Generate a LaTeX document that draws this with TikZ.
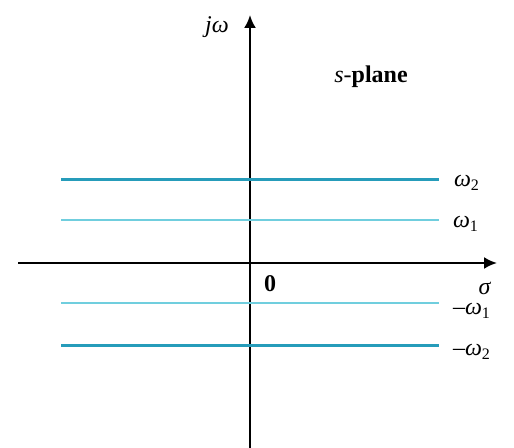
\documentclass[tikz,border=0pt]{standalone}
\usepackage{fontspec}
\setmainfont{Liberation Serif}
\usetikzlibrary{arrows.meta,positioning}
\definecolor{polehi}{RGB}{38,156,186}
\definecolor{polelo}{RGB}{112,206,222}

\begin{document}
\begin{tikzpicture}[
  x=0.5pt, y=-0.5pt,
  axis/.style={-{Latex[length=6.5pt,width=6pt]}, line width=1.1pt},
  bandhi/.style={draw=polehi, line width=1.5pt},
  bandlo/.style={draw=polelo, line width=1pt},
  lab/.style={font=\fontsize{12}{14}\selectfont, inner sep=1pt}
]
\useasboundingbox (0,0) rectangle (514,448);

% ---------------------------------------------------------------------------
% Axes of the s-plane
% ---------------------------------------------------------------------------
\coordinate (origin) at (250,263);
\coordinate (reLeft) at (18,263);
\coordinate (reRight) at (497,263);
\coordinate (imTop) at (250,15);
\coordinate (imBottom) at (250,448);

\draw[axis] (reLeft) -- (reRight);
\draw[axis] (imBottom) -- (imTop);

\node[lab] (jw) at (217,27) {\textit{jω}};
\node[lab] (sigma) at (485,288) {\textit{σ}};
\node[lab] (zero) at (270,284) {\bfseries 0};
\node[lab] (splane) at (371,77) {\textit{s}-\textbf{plane}};

% ---------------------------------------------------------------------------
% Horizontal lines at +/- omega_1 and +/- omega_2
% ---------------------------------------------------------------------------
\node[lab] (w2) at (467,183) {\textit{ω}\textsubscript{2}};
\node[lab] (w1) at (466,224) {\textit{ω}\textsubscript{1}};
\node[lab] (mw1) at (472,311) {–\textit{ω}\textsubscript{1}};
\node[lab] (mw2) at (472,352) {–\textit{ω}\textsubscript{2}};

\coordinate (w2L) at (61,180);
\coordinate (w1L) at (61,220);
\coordinate (mw1L) at (61,303);
\coordinate (mw2L) at (61,346);

\draw[bandhi] (w2L) -- (w2L -| 439,0);
\draw[bandlo] (w1L) -- (w1L -| 439,0);
\draw[bandlo] (mw1L) -- (mw1L -| 439,0);
\draw[bandhi] (mw2L) -- (mw2L -| 439,0);

\end{tikzpicture}
\end{document}
